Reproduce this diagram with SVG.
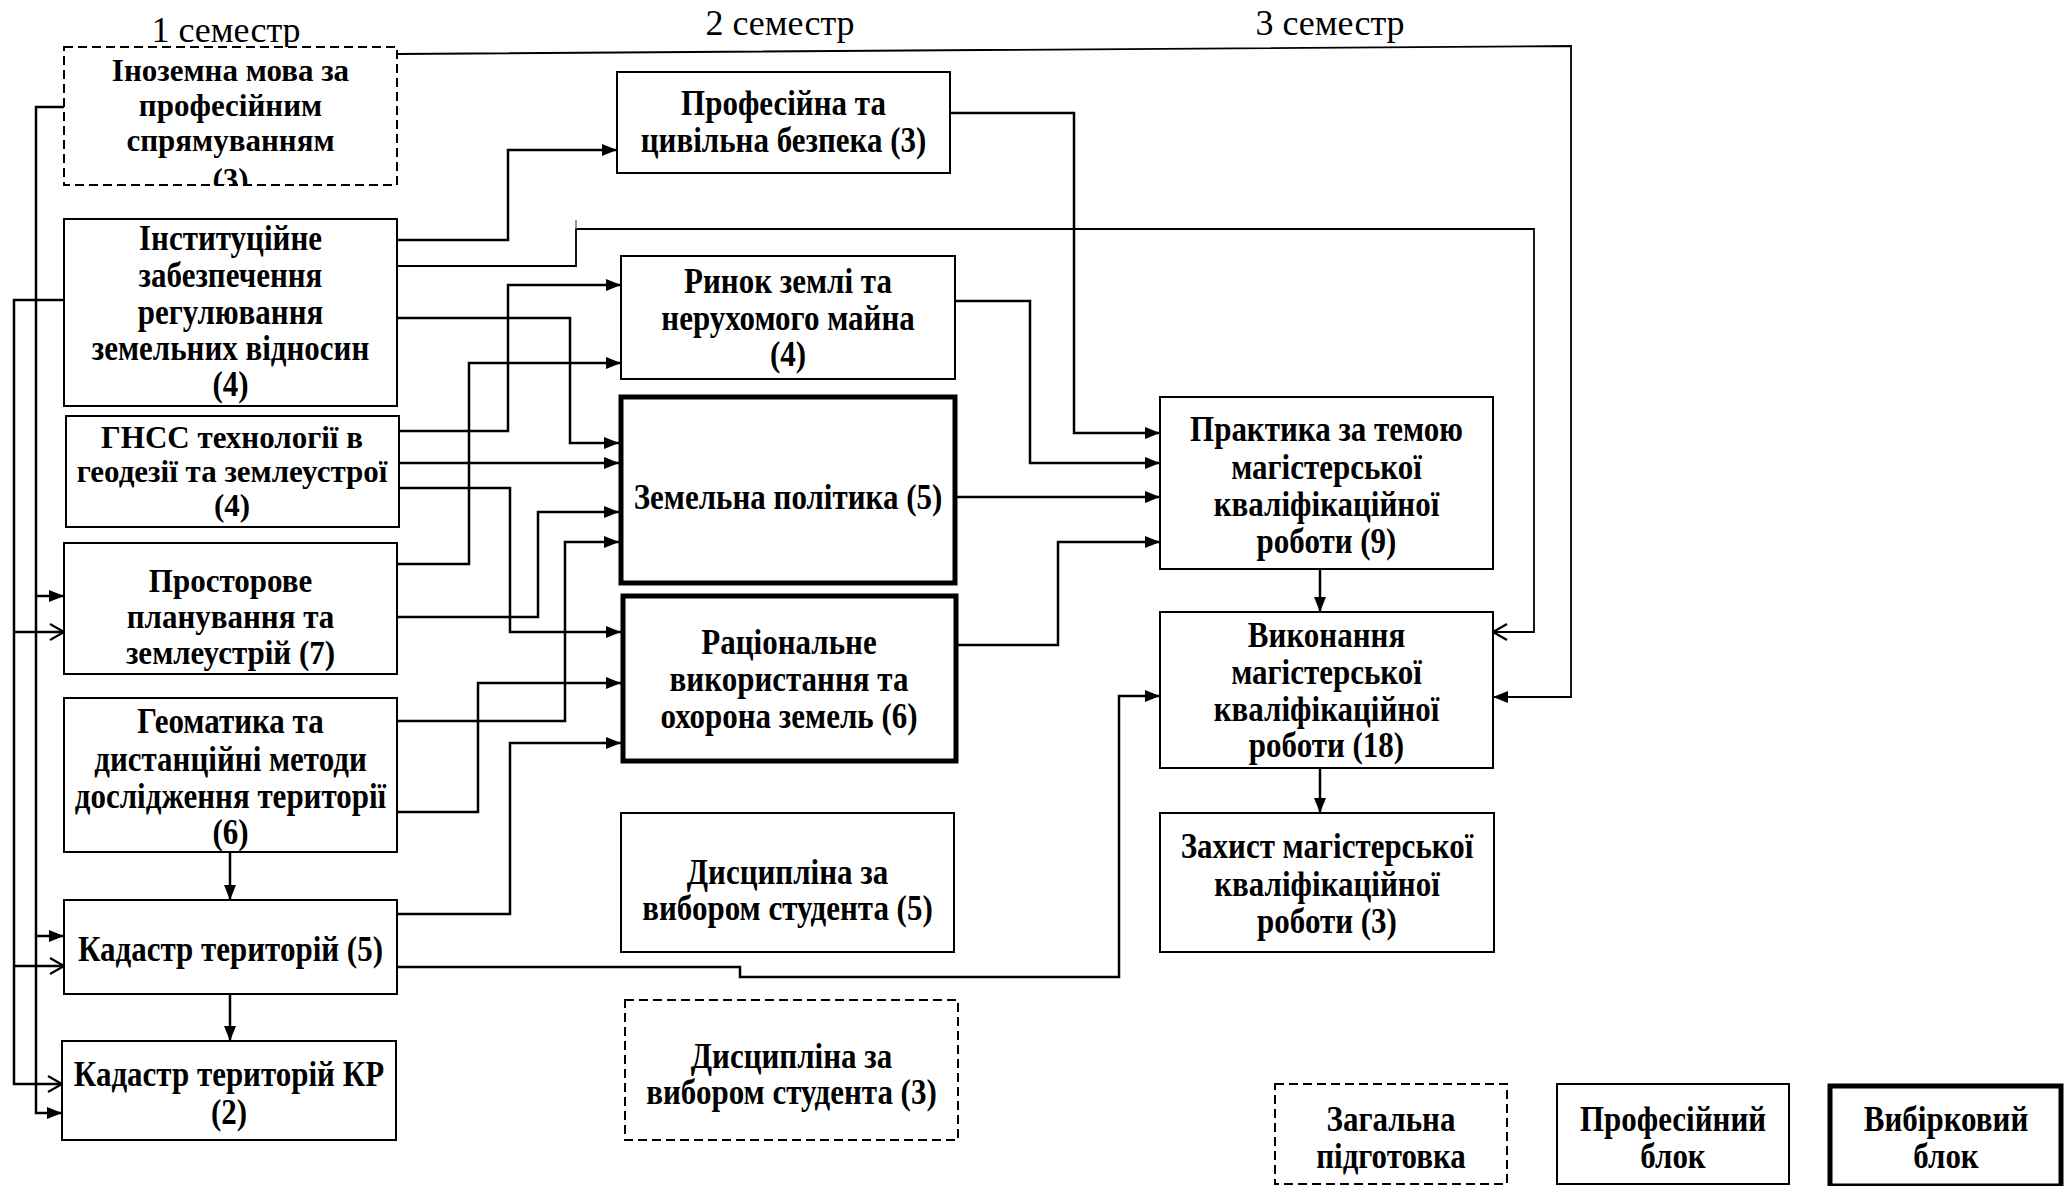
<svg xmlns="http://www.w3.org/2000/svg" width="2065" height="1186" viewBox="0 0 2065 1186">
<style>
.box{fill:#fff;stroke:#000;stroke-width:2}
.dash{fill:#fff;stroke:#000;stroke-width:2;stroke-dasharray:9 5}
.thick{fill:#fff;stroke:#000;stroke-width:5}
.t{font-family:"Liberation Serif","Times New Roman",serif;font-weight:bold;font-size:31px;text-anchor:middle;fill:#000}
.h{font-family:"Liberation Serif","Times New Roman",serif;font-size:36px;text-anchor:middle;fill:#000}
.c{fill:none;stroke:#000;stroke-width:2.5}
.cf{fill:none;stroke:#000;stroke-width:2.5;marker-end:url(#af)}
.co{fill:none;stroke:#000;stroke-width:2.5;marker-end:url(#ao)}
</style>
<defs>
<marker id="af" markerUnits="userSpaceOnUse" markerWidth="16" markerHeight="14" refX="15" refY="6" orient="auto">
<path d="M0,0 L15,6 L0,12 z" fill="#000"/>
</marker>
<marker id="ao" markerUnits="userSpaceOnUse" markerWidth="18" markerHeight="20" refX="15" refY="9" orient="auto">
<path d="M1,1 L15,9 L1,17" fill="none" stroke="#000" stroke-width="2.2"/>
</marker>
<clipPath id="clipIn"><rect x="64" y="47" width="333" height="138"/></clipPath>
</defs>
<rect width="2065" height="1186" fill="#fff"/>

<g id="headers">
<text class="h" x="226" y="42">1 семестр</text>
<text class="h" x="780" y="35">2 семестр</text>
<text class="h" x="1330" y="35">3 семестр</text>
</g>

<g id="connectors">
<path class="cf" d="M64,107 H36 V1113 H62"/>
<path class="cf" d="M36,596 H64"/>
<path class="cf" d="M36,936 H64"/>
<path class="co" d="M64,300 H14 V1084 H62"/>
<path class="co" d="M14,632 H64"/>
<path class="co" d="M14,966 H64"/>
<path class="cf" d="M230,852 V900"/>
<path class="cf" d="M230,994 V1041"/>
<path class="cf" style="stroke-width:1.8" d="M397,54 L1571,46 V697 H1493"/>
<path class="co" style="stroke-width:1.8" d="M397,266 H576 V229 H1534 V632 H1493"/>
<path d="M576,220 V229" stroke="#4472C4" stroke-width="1.5" fill="none"/>
<path class="cf" d="M397,240 H508 V150 H617"/>
<path class="cf" d="M397,318 H570 V443 H619"/>
<path class="cf" d="M399,431 H508 V285 H621"/>
<path class="cf" d="M397,564 H469 V363 H621"/>
<path class="cf" d="M399,463 H619"/>
<path class="cf" d="M399,488 H510 V632 H621"/>
<path class="cf" d="M397,617 H538 V512 H619"/>
<path class="cf" d="M397,721 H565 V542 H619"/>
<path class="cf" d="M397,812 H478 V683 H621"/>
<path class="cf" d="M397,914 H510 V743 H621"/>
<path class="cf" d="M397,967 H740 V977 H1119 V696 H1160"/>
<path class="cf" d="M950,113 H1074 V433 H1160"/>
<path class="cf" d="M955,301 H1030 V463 H1160"/>
<path class="cf" d="M957,497 H1160"/>
<path class="cf" d="M958,645 H1058 V542 H1160"/>
<path class="cf" d="M1320,569 V612"/>
<path class="cf" d="M1320,768 V813"/>
</g>

<g id="n-inozemna">
<rect class="dash" x="64" y="47" width="333" height="138"/>
<g clip-path="url(#clipIn)">
<text class="t"><tspan x="230.5" y="81">Іноземна мова за</tspan><tspan x="230.5" y="116">професійним</tspan><tspan x="230.5" y="151">спрямуванням</tspan><tspan x="230.5" y="190">(3)</tspan></text>
</g>
</g>
<g id="n-instytutsiine">
<rect class="box" x="64" y="219" width="333" height="187"/>
<text class="t" transform="translate(230.5,250) scale(1,1.15)"><tspan x="0" y="0">Інституційне</tspan><tspan x="0" y="32.17">забезпечення</tspan><tspan x="0" y="64.35">регулювання</tspan><tspan x="0" y="95.65">земельних відносин</tspan><tspan x="0" y="126.96">(4)</tspan></text>
</g>
<g id="n-gnss">
<rect class="box" x="66" y="416" width="333" height="111"/>
<text class="t"><tspan x="232" y="448">ГНСС технології в</tspan><tspan x="232" y="482">геодезії та землеустрої</tspan><tspan x="232" y="516">(4)</tspan></text>
</g>
<g id="n-prostorove">
<rect class="box" x="64" y="543" width="333" height="131"/>
<text class="t" transform="translate(230.5,592) scale(1,1.1)"><tspan x="0" y="0">Просторове</tspan><tspan x="0" y="32.73">планування та</tspan><tspan x="0" y="65.45">землеустрій (7)</tspan></text>
</g>
<g id="n-geomatyka">
<rect class="box" x="64" y="698" width="333" height="154"/>
<text class="t" transform="translate(230.5,733) scale(1,1.15)"><tspan x="0" y="0">Геоматика та</tspan><tspan x="0" y="33.04">дистанційні методи</tspan><tspan x="0" y="65.22">дослідження території</tspan><tspan x="0" y="96.52">(6)</tspan></text>
</g>
<g id="n-kadastr">
<rect class="box" x="64" y="900" width="333" height="94"/>
<text class="t" transform="translate(230.5,961) scale(1,1.15)" x="0" y="0">Кадастр територій (5)</text>
</g>
<g id="n-kadastr-kr">
<rect class="box" x="62" y="1041" width="334" height="99"/>
<text class="t" transform="translate(229,1086) scale(1,1.15)"><tspan x="0" y="0">Кадастр територій КР</tspan><tspan x="0" y="33.04">(2)</tspan></text>
</g>

<g id="n-profesiina">
<rect class="box" x="617" y="72" width="333" height="101"/>
<text class="t" transform="translate(783.5,115) scale(1,1.15)"><tspan x="0" y="0">Професійна та</tspan><tspan x="0" y="32.17">цивільна безпека (3)</tspan></text>
</g>
<g id="n-rynok">
<rect class="box" x="621" y="256" width="334" height="123"/>
<text class="t" transform="translate(788,293) scale(1,1.15)"><tspan x="0" y="0">Ринок землі та</tspan><tspan x="0" y="32.17">нерухомого майна</tspan><tspan x="0" y="63.48">(4)</tspan></text>
</g>
<g id="n-zemelna">
<rect class="thick" x="621" y="397" width="334" height="186"/>
<text class="t" transform="translate(788,509) scale(1,1.15)" x="0" y="0">Земельна політика (5)</text>
</g>
<g id="n-ratsionalne">
<rect class="thick" x="623" y="596" width="333" height="165"/>
<text class="t" transform="translate(789,654) scale(1,1.15)"><tspan x="0" y="0">Раціональне</tspan><tspan x="0" y="32.17">використання та</tspan><tspan x="0" y="64.35">охорона земель (6)</tspan></text>
</g>
<g id="n-dyscyplina5">
<rect class="box" x="621" y="813" width="333" height="139"/>
<text class="t" transform="translate(787.5,884) scale(1,1.15)"><tspan x="0" y="0">Дисципліна за</tspan><tspan x="0" y="31.3">вибором студента (5)</tspan></text>
</g>
<g id="n-dyscyplina3">
<rect class="dash" x="625" y="1000" width="333" height="140"/>
<text class="t" transform="translate(791.5,1068) scale(1,1.15)"><tspan x="0" y="0">Дисципліна за</tspan><tspan x="0" y="31.3">вибором студента (3)</tspan></text>
</g>

<g id="n-praktyka">
<rect class="box" x="1160" y="397" width="333" height="172"/>
<text class="t" transform="translate(1326.5,441) scale(1,1.15)"><tspan x="0" y="0">Практика за темою</tspan><tspan x="0" y="33.04">магістерської</tspan><tspan x="0" y="65.22">кваліфікаційної</tspan><tspan x="0" y="97.39">роботи (9)</tspan></text>
</g>
<g id="n-vykonannia">
<rect class="box" x="1160" y="612" width="333" height="156"/>
<text class="t" transform="translate(1326.5,647) scale(1,1.15)"><tspan x="0" y="0">Виконання</tspan><tspan x="0" y="32.17">магістерської</tspan><tspan x="0" y="64.35">кваліфікаційної</tspan><tspan x="0" y="95.65">роботи (18)</tspan></text>
</g>
<g id="n-zakhyst">
<rect class="box" x="1160" y="813" width="334" height="139"/>
<text class="t" transform="translate(1327,858) scale(1,1.15)"><tspan x="0" y="0">Захист магістерської</tspan><tspan x="0" y="33.04">кваліфікаційної</tspan><tspan x="0" y="65.22">роботи (3)</tspan></text>
</g>

<g id="legend-zagalna">
<rect class="dash" x="1275" y="1084" width="232" height="100"/>
<text class="t" transform="translate(1391,1131) scale(1,1.15)"><tspan x="0" y="0">Загальна</tspan><tspan x="0" y="32.17">підготовка</tspan></text>
</g>
<g id="legend-profesiinyi">
<rect class="box" x="1557" y="1084" width="232" height="100"/>
<text class="t" transform="translate(1673,1131) scale(1,1.15)"><tspan x="0" y="0">Професійний</tspan><tspan x="0" y="32.17">блок</tspan></text>
</g>
<g id="legend-vybirkovyi">
<rect class="thick" x="1830" y="1086" width="231" height="100"/>
<text class="t" transform="translate(1946,1131) scale(1,1.15)"><tspan x="0" y="0">Вибірковий</tspan><tspan x="0" y="32.17">блок</tspan></text>
</g>
</svg>
